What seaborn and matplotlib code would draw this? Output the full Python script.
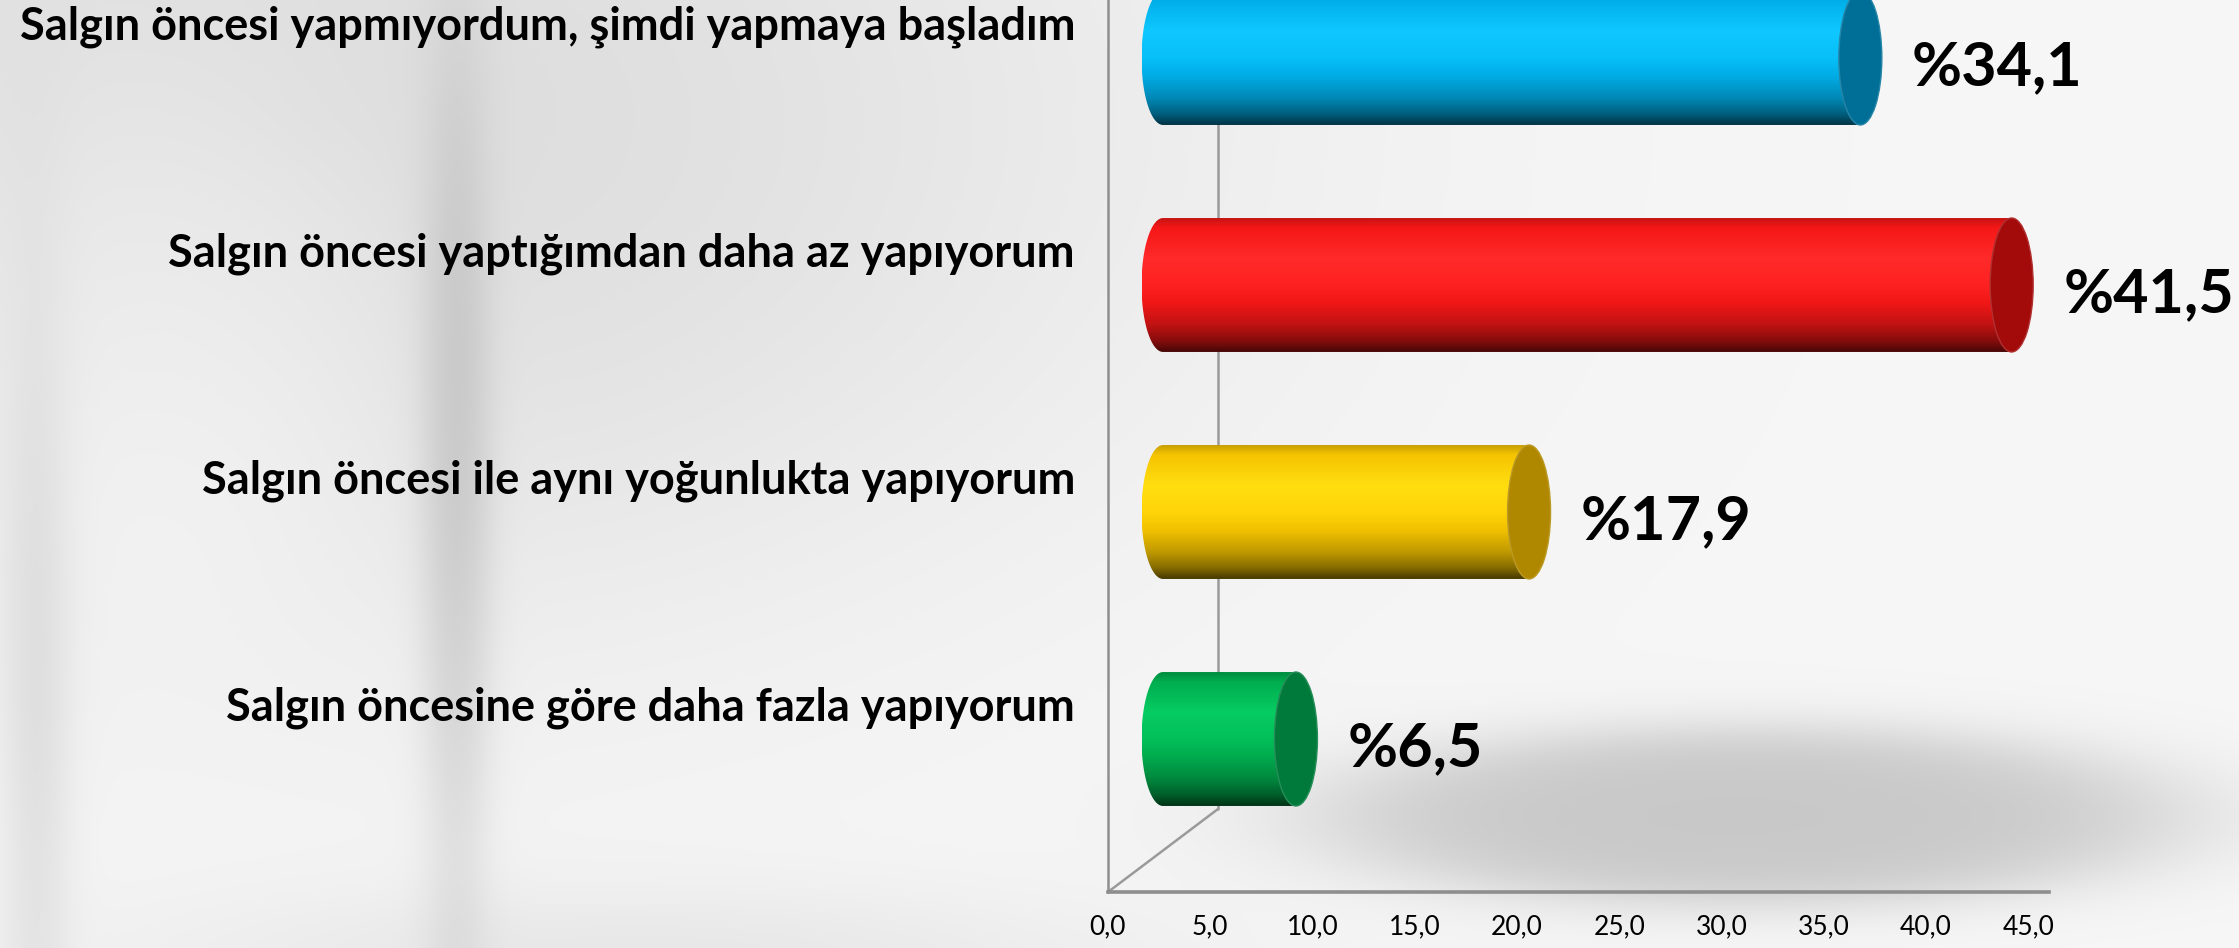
import numpy as np
import matplotlib
matplotlib.use("Agg")
import matplotlib.pyplot as plt
import seaborn as sns
from matplotlib.path import Path
from matplotlib.patches import PathPatch, Ellipse
from matplotlib.lines import Line2D
from matplotlib.colors import to_rgb

# ---------------- data ----------------
categories = [
    "Salgın öncesi yapmıyordum, şimdi yapmaya başladım",
    "Salgın öncesi yaptığımdan daha az yapıyorum",
    "Salgın öncesi ile aynı yoğunlukta yapıyorum",
    "Salgın öncesine göre daha fazla yapıyorum",
]
values = [34.1, 41.5, 17.9, 6.5]
value_labels = ["%34,1", "%41,5", "%17,9", "%6,5"]
tick_values = [0, 5, 10, 15, 20, 25, 30, 35, 40, 45]
tick_labels = ["0,0", "5,0", "10,0", "15,0", "20,0", "25,0", "30,0", "35,0", "40,0", "45,0"]

# ---------------- style ----------------
base_colors = ["#00b6f2", "#ff1818", "#ffcc00", "#00b452"]
light_colors = ["#10c8ff", "#ff2a2a", "#ffde10", "#06cc62"]
cap_colors = ["#006f98", "#a30b0b", "#b08800", "#007a3b"]

sns.set_theme(style="white")
plt.rcParams["font.family"] = ["Lato", "DejaVu Sans"]

W, H = 2239, 948
DPI = 100
fig = plt.figure(figsize=(W / DPI, H / DPI), dpi=DPI)

# ---------------- background (soft photographic greys) ----------------
bg = fig.add_axes([0, 0, 1, 1], zorder=0)
sy, sx = H // 3, W // 3
Y, X = np.mgrid[0:sy, 0:sx].astype(float) * 3.0


def soft_ellipse(cx, cy, rx, ry, soft=0.25):
    r = np.sqrt(((X - cx) / rx) ** 2 + ((Y - cy) / ry) ** 2)
    return 1.0 / (1.0 + np.exp((r - 1.0) / soft))


img = np.full(X.shape, 0.968)
img -= 0.11 * soft_ellipse(300, 120, 700, 420, 0.35)
img += 0.05 * soft_ellipse(170, 330, 200, 250, 0.3)
img -= 0.12 * soft_ellipse(455, 520, 30, 380, 0.35)
img -= 0.08 * soft_ellipse(35, 720, 28, 330, 0.4)
img -= 0.06 * soft_ellipse(650, 960, 400, 60, 0.4)
img -= 0.18 * soft_ellipse(1750, 815, 420, 88, 0.16)
img = np.clip(img, 0, 1)
bg.imshow(np.dstack([img] * 3), extent=(0, 1, 0, 1), aspect="auto",
          interpolation="bilinear", origin="upper")
bg.set_xlim(0, 1)
bg.set_ylim(0, 1)
bg.axis("off")

# ---------------- geometry (pixels) ----------------
px_per_unit = 20.45
x_front0 = 1108          # front-plane origin x
y_front0 = 892           # front-plane origin y (from top)
depth_dx, depth_dy = 110, 83
xmax = 46

# front frame axes (value axis + ticks)
axf = fig.add_axes([x_front0 / W, (H - y_front0) / H,
                    xmax * px_per_unit / W, 0.99], zorder=1)
axf.patch.set_visible(False)
axf.set_xlim(0, xmax)
axf.set_ylim(0, 1)
for s in ["top", "right"]:
    axf.spines[s].set_visible(False)
for s in ["left", "bottom"]:
    axf.spines[s].set_color("#8e8e8e")
    axf.spines[s].set_linewidth(1.8)
axf.spines["bottom"].set_linewidth(2.6)
axf.set_xticks(tick_values)
axf.set_xticklabels(tick_labels, fontsize=19, color="black")
axf.tick_params(axis="x", length=0, pad=16)
axf.set_yticks([])

# back wall line and floor diagonal
x_back = x_front0 + depth_dx
y_back = y_front0 - depth_dy
fig.add_artist(Line2D([x_back / W, x_back / W], [(H - y_back) / H, 1.01],
                      transform=fig.transFigure, color="#9a9a9a", lw=1.8, zorder=1))
fig.add_artist(Line2D([x_front0 / W, x_back / W], [(H - y_front0) / H, (H - y_back) / H],
                      transform=fig.transFigure, color="#9a9a9a", lw=1.8, zorder=1))

# bar axes (mid-depth plane)
x_bar0 = x_front0 + depth_dx / 2
xmin_b = -3
cat_step = 227.0
first_center = 58.0
top_px = first_center - 0.5 * cat_step
bottom_px = first_center + 3.5 * cat_step
axb = fig.add_axes([(x_bar0 + xmin_b * px_per_unit) / W, (H - bottom_px) / H,
                    (xmax - xmin_b) * px_per_unit / W, (bottom_px - top_px) / H], zorder=2)
axb.patch.set_visible(False)

sns.barplot(x=values, y=categories, hue=categories, palette=base_colors,
            orient="h", width=0.59, legend=False, ax=axb)

cap_half_px = 21.5
a = cap_half_px / px_per_unit


def shade(c, f):
    c = np.array(to_rgb(c))
    if f >= 0:
        return c + (1 - c) * f
    return c * (1 + f)


patches = sorted([p for p in axb.patches], key=lambda p: p.get_y())
for i, p in enumerate(patches):
    x0, w = p.get_x(), p.get_width()
    y0, h = p.get_y(), p.get_height()
    yc = y0 + h / 2
    p.set_visible(False)
    base = base_colors[i]
    lc = np.array(to_rgb(light_colors[i]))
    stops = [
        (0.00, shade(base, -0.22)),
        (0.07, shade(base, -0.04)),
        (0.30, lc),
        (0.50, lc * 0.5 + shade(base, 0) * 0.5),
        (0.64, shade(base, -0.06)),
        (0.80, shade(base, -0.25)),
        (0.92, shade(base, -0.48)),
        (1.00, shade(base, -0.72)),
    ]
    n = 200
    t = np.linspace(0, 1, n)
    grad = np.zeros((n, 1, 3))
    for k in range(3):
        grad[:, 0, k] = np.interp(t, [s[0] for s in stops], [s[1][k] for s in stops])
    theta = np.linspace(np.pi / 2, 3 * np.pi / 2, 60)
    pts = [(x0 + a * np.cos(th), yc + (h / 2) * np.sin(th)) for th in theta]
    pts += [(x0 + w, yc - h / 2), (x0 + w, yc + h / 2), pts[0]]
    codes = [Path.MOVETO] + [Path.LINETO] * (len(pts) - 2) + [Path.CLOSEPOLY]
    body = PathPatch(Path(pts, codes), facecolor="none", edgecolor="none")
    axb.add_patch(body)
    im = axb.imshow(grad, extent=(x0 - a, x0 + w, y0 + h, y0), origin="upper",
                    aspect="auto", interpolation="bilinear", zorder=3)
    im.set_clip_path(body)
    cap = Ellipse((x0 + w, yc), 2 * a, h, facecolor=cap_colors[i],
                  edgecolor=shade(cap_colors[i], 0.15), lw=1.0, zorder=4)
    axb.add_patch(cap)
    axb.annotate(value_labels[i], xy=(x0 + w, yc), xytext=(cap_half_px + 30, -9),
                 textcoords="offset pixels", ha="left", va="center",
                 fontsize=44, fontweight="bold", color="black", zorder=5,
                 annotation_clip=False)
    axb.annotate(categories[i], xy=(x0, yc), xytext=(-88, 31),
                 textcoords="offset pixels", ha="right", va="center",
                 fontsize=32.5, fontweight="bold", color="black", zorder=5,
                 annotation_clip=False)

axb.set_xlim(xmin_b, xmax)
axb.set_ylim(3.5, -0.5)
axb.axis("off")

fig.savefig("out.png", dpi=DPI)
